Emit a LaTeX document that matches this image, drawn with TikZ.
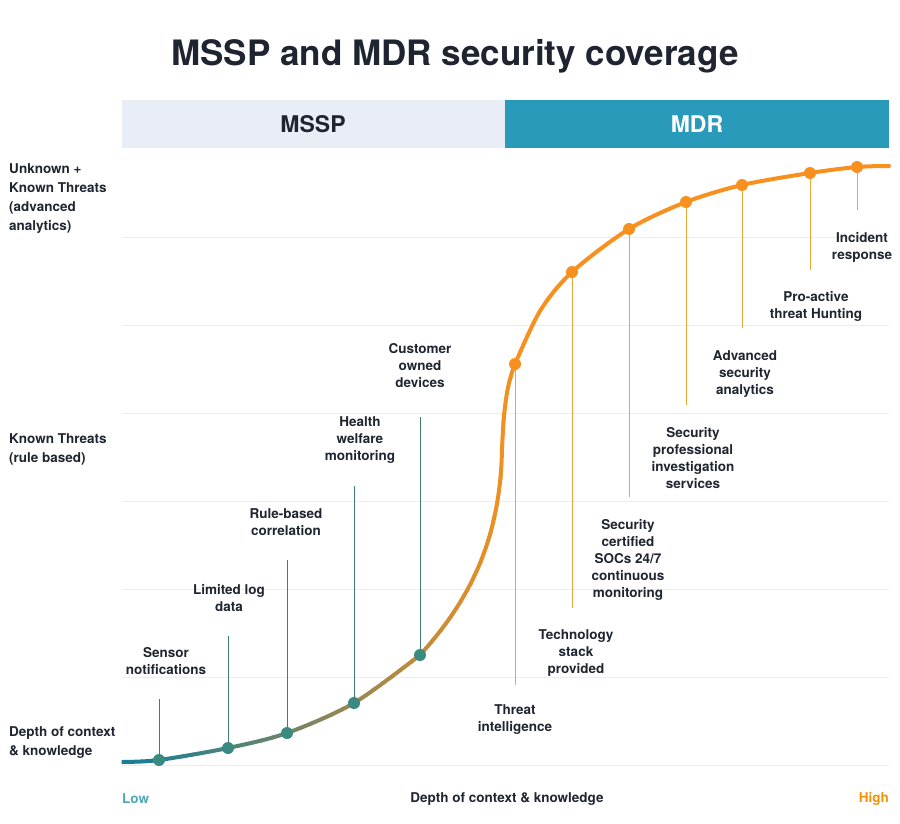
\documentclass[tikz,border=0pt]{standalone}
\usepackage{fontspec}
\setmainfont{TeX Gyre Heros}
\usetikzlibrary{positioning}

\definecolor{ink}{HTML}{1F2530}
\definecolor{tealC}{HTML}{1B7E95}
\definecolor{dotTeal}{HTML}{3A8A82}
\definecolor{lineTeal}{HTML}{3F7C78}
\definecolor{orangeC}{HTML}{F7901E}
\definecolor{lineOrange}{HTML}{EFA43A}
\definecolor{msspFill}{HTML}{E9EEF6}
\definecolor{mdrFill}{HTML}{2A9ABB}
\definecolor{gridC}{HTML}{EDEDED}
\definecolor{lowC}{HTML}{4FA6B8}
\definecolor{highC}{HTML}{F39200}

% the coverage curve, in pixel units
\newcommand\coveragecurve{
  plot[smooth, tension=0.5] coordinates {(122,762) (159,760) (228,748) (287,733) (354,703) (420,655)}
  .. controls (470,600) and (500,540) .. (502,450)
  .. controls (504,400) and (508,382) .. (515,364)
  plot[smooth, tension=0.5] coordinates {(515,364) (540,311) (572,272) (629,229) (686,202)
    (742,185) (810,173) (857,167) (889,166)}}

\begin{document}
\begin{tikzpicture}
		[
			x=1pt, y=-1pt,
			lbl/.style={font=\bfseries\fontsize{13.5}{17}\selectfont, text=ink, align=center, inner sep=0pt},
			side/.style={font=\bfseries\fontsize{13.5}{19}\selectfont, text=ink, align=left, inner sep=0pt, anchor=north west},
			dot/.style={circle, minimum size=12pt, inner sep=0pt},
			stem/.style={line width=1pt},
			curve/.style={line width=4pt, line cap=round},
		]

		\useasboundingbox (0,0) rectangle (900,824);

		% Title
		\node[font=\bfseries\fontsize{35}{40}\selectfont, text=ink] (title) at (455,56) {MSSP and MDR security coverage};

		% Header bar
		\fill[msspFill] (122,100) rectangle (505,148);
		\fill[mdrFill] (505,100) rectangle (889,148);
		\node[font=\bfseries\fontsize{23}{26}\selectfont, text=ink] (mssp) at (313,124) {MSSP};
		\node[font=\bfseries\fontsize{23}{26}\selectfont, text=white] (mdr) at (697,124) {MDR};

		% Grid
		\foreach \y in {237,325,...,765}
			\draw[gridC, line width=0.8pt] (122,\y) -- (889,\y);

		% Side labels
		\node[side] (unknown) at (9,163) {Unknown +\\Known Threats\\(advanced\\analytics)};
		\node[side] (known) at (9,433) {Known Threats\\(rule based)};
		\node[side] (depth) at (9,726) {Depth of context\\\& knowledge};

		% Axis labels
		\node[lbl, text=lowC, anchor=west] (low) at (122,799) {Low};
		\node[lbl] (axis) at (507,799) {Depth of context \& knowledge};
		\node[lbl, text=highC, anchor=east] (high) at (889,799) {High};

		% Curve, coloured strip by strip
		\foreach \a in {122,132,...,512}
		{
			\pgfmathsetmacro\p{max(0,min(100,(\a-140)/3.7))}
			\begin{scope}
				\clip (\a-0.5,0) rectangle (\a+10.5,824);
				\draw[curve, orangeC!\p!tealC] \coveragecurve;
			\end{scope}
		}
		\begin{scope}
			\clip (521.5,0) rectangle (900,824);
			\draw[curve, orangeC] \coveragecurve;
		\end{scope}

		% Stages: stems and dots
		\foreach \lc/\dc/\name/\x/\y/\ey in
		{
			lineTeal/dotTeal/1/159/760/699,
			lineTeal/dotTeal/2/228/748/636,
			lineTeal/dotTeal/3/287/733/560,
			lineTeal/dotTeal/4/354/703/486,
			lineTeal/dotTeal/5/420/655/417,
			lineOrange/orangeC/6/515/364/685,
			lineOrange/orangeC/7/572/272/608,
			lineOrange/orangeC/8/629/229/497,
			lineOrange/orangeC/9/686/202/405,
			lineOrange/orangeC/10/742/185/328,
			lineOrange/orangeC/11/810/173/270,
			lineOrange/orangeC/12/857/167/210
		}
		{
			\coordinate (e\name) at (\x,\ey);
			\draw[stem, draw=\lc] (\x,\y) -- (e\name);
			\node[dot, fill=\dc] (d\name) at (\x,\y) {};
		}

		% Stage labels
		\node[lbl] (t1) at (166,661) {Sensor\\notifications};
		\node[lbl] (t2) at (229,598) {Limited log\\data};
		\node[lbl] (t3) at (286,522) {Rule-based\\correlation};
		\node[lbl] (t4) at (360,440) {Health\\welfare\\monitoring};
		\node[lbl] (t5) at (420,366) {Customer\\owned\\devices};
		\node[lbl] (t6) at (515,720) {Threat\\intelligence};
		\node[lbl] (t7) at (576,653) {Technology\\stack\\provided};
		\node[lbl] (t8) at (628,560) {Security\\certified\\SOCs 24/7\\continuous\\monitoring};
		\node[lbl] (t9) at (693,458) {Security\\professional\\investigation\\services};
		\node[lbl] (t10) at (745,374) {Advanced\\security\\analytics};
		\node[lbl] (t11) at (816,306) {Pro-active\\threat Hunting};
		\node[lbl] (t12) at (862,247) {Incident\\response};

\end{tikzpicture}
\end{document}
